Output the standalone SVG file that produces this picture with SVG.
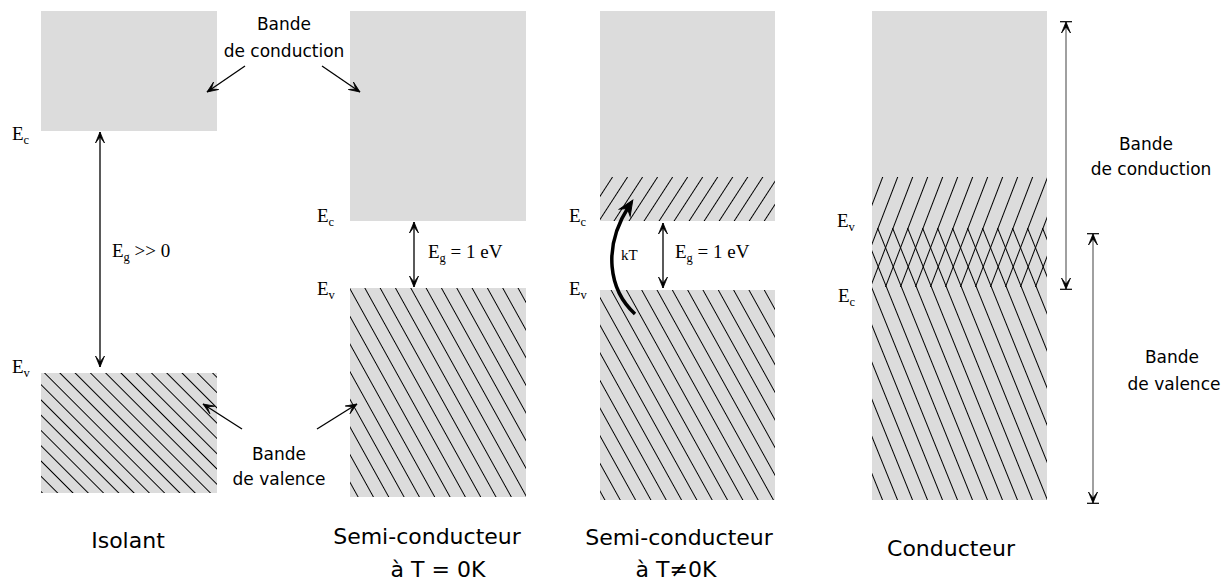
<svg xmlns="http://www.w3.org/2000/svg" width="1229" height="583" viewBox="0 0 1229 583">
<style>
.band{fill:#dcdcdc;stroke:none}
.hl{stroke:#000;stroke-width:1;shape-rendering:crispEdges}
.lbl{font-family:"Comic Sans MS","DejaVu Sans",sans-serif;font-size:17px;text-anchor:middle;fill:#000}
.ttl{font-family:"Comic Sans MS","DejaVu Sans",sans-serif;font-size:22px;text-anchor:middle;fill:#000}
.e{font-family:"Liberation Serif","Times New Roman",serif;font-size:19px;fill:#000}
.sub{font-size:12.5px}
.kt{font-family:"Liberation Serif","Times New Roman",serif;font-size:15px;fill:#000}
.ar{stroke:#000;stroke-width:1.3;fill:none}
.gr{stroke:#808080;stroke-width:1.5;fill:none}
</style>
<defs>
<pattern id="hIso" width="10.8" height="10.8" patternUnits="userSpaceOnUse" patternTransform="rotate(-45)"><line class="hl" x1="5" y1="-1" x2="5" y2="11.8"/></pattern>
<pattern id="hSemi" width="13.4" height="13.4" patternUnits="userSpaceOnUse" patternTransform="rotate(-29)"><line class="hl" x1="5" y1="-1" x2="5" y2="14.4"/></pattern>
<pattern id="hUp" width="12.6" height="12.6" patternUnits="userSpaceOnUse" patternTransform="rotate(33)"><line class="hl" x1="5" y1="-1" x2="5" y2="13.6"/></pattern>
<pattern id="hCup" width="14" height="14" patternUnits="userSpaceOnUse" patternTransform="rotate(21)"><line class="hl" x1="5" y1="-1" x2="5" y2="15"/></pattern>
<pattern id="hCdn" width="13.9" height="13.9" patternUnits="userSpaceOnUse" patternTransform="rotate(-22)"><line class="hl" x1="5" y1="-1" x2="5" y2="14.9"/></pattern>
<marker id="arr" viewBox="-12 -6 13 12" markerWidth="13" markerHeight="12" refX="0" refY="0" orient="auto-start-reverse" markerUnits="userSpaceOnUse"><path d="M0,0 L-11,-4.5 L-5,0 L-11,4.5 Z" fill="#000" stroke="#000" stroke-width="0.8"/></marker>
<marker id="arrT" viewBox="-12 -7 13 14" markerWidth="13" markerHeight="14" refX="0" refY="0" orient="auto-start-reverse" markerUnits="userSpaceOnUse"><path d="M0,0 L-11,-4.5 L-5,0 L-11,4.5 Z" fill="#000" stroke="#000" stroke-width="0.8"/><line x1="0.3" y1="-6" x2="0.3" y2="6" stroke="#000" stroke-width="1.2"/></marker>
<marker id="arrK" viewBox="-16 -8 17 16" markerWidth="17" markerHeight="16" refX="-7" refY="0" orient="auto" markerUnits="userSpaceOnUse"><path d="M0,0 L-15,-6.5 L-10,0 L-15,6.5 Z" fill="#000" stroke="#000" stroke-width="1"/></marker>
</defs>

<g id="isolant">
<g id="iso-cond"><rect class="band" x="41" y="11" width="176" height="120"/></g>
<g id="iso-val"><rect class="band" x="41" y="373" width="176" height="120"/><rect x="41" y="373" width="176" height="120" fill="url(#hIso)"/></g>
<text class="e" x="12" y="140">E<tspan class="sub" dy="4">c</tspan></text>
<text class="e" x="12" y="373">E<tspan class="sub" dy="4">v</tspan></text>
<text class="e" x="112" y="257">E<tspan class="sub" dy="4">g</tspan><tspan dy="-4"> &gt;&gt; 0</tspan></text>
<text class="ttl" x="128" y="548">Isolant</text>
</g>

<g id="semi0">
<g id="semi0-cond"><rect class="band" x="350" y="11" width="176" height="210"/></g>
<g id="semi0-val"><rect class="band" x="350" y="288" width="176" height="209"/><rect x="350" y="288" width="176" height="209" fill="url(#hSemi)"/></g>
<text class="e" x="317" y="222">E<tspan class="sub" dy="4">c</tspan></text>
<text class="e" x="317" y="295">E<tspan class="sub" dy="4">v</tspan></text>
<text class="e" x="428" y="258">E<tspan class="sub" dy="4">g</tspan><tspan dy="-4"> = 1 eV</tspan></text>
<text class="ttl" x="427" y="544">Semi-conducteur</text>
<text class="ttl" x="438" y="577">à T = 0K</text>
</g>

<g id="semiT">
<g id="semiT-cond"><rect class="band" x="600" y="11" width="175" height="210"/><rect x="600" y="177" width="175" height="44" fill="url(#hUp)"/></g>
<g id="semiT-val"><rect class="band" x="600" y="290" width="175" height="210"/><rect x="600" y="290" width="175" height="210" fill="url(#hSemi)"/></g>
<text class="e" x="569" y="222">E<tspan class="sub" dy="4">c</tspan></text>
<text class="e" x="569" y="295">E<tspan class="sub" dy="4">v</tspan></text>
<text class="e" x="675" y="258">E<tspan class="sub" dy="4">g</tspan><tspan dy="-4"> = 1 eV</tspan></text>
<text class="kt" x="621" y="260">kT</text>
<text class="ttl" x="679" y="545">Semi-conducteur</text>
<text class="ttl" x="676" y="577">à T≠0K</text>
</g>

<g id="conducteur">
<g id="cond-band"><rect class="band" x="872" y="11" width="175" height="489"/><rect x="872" y="177" width="175" height="110" fill="url(#hCup)"/><rect x="872" y="228" width="175" height="272" fill="url(#hCdn)"/></g>
<text class="e" x="837" y="227">E<tspan class="sub" dy="4">v</tspan></text>
<text class="e" x="838" y="302">E<tspan class="sub" dy="4">c</tspan></text>
<text class="ttl" x="951" y="556">Conducteur</text>
</g>

<g id="labels">
<text class="lbl" x="284" y="30">Bande</text>
<text class="lbl" x="284" y="57">de conduction</text>
<text class="lbl" x="279" y="460">Bande</text>
<text class="lbl" x="279" y="485">de valence</text>
<text class="lbl" x="1146" y="150">Bande</text>
<text class="lbl" x="1151" y="175">de conduction</text>
<text class="lbl" x="1172" y="363">Bande</text>
<text class="lbl" x="1174" y="390">de valence</text>
</g>

<g id="connectors">
<line class="ar" x1="100" y1="132" x2="100" y2="367" marker-start="url(#arr)" marker-end="url(#arr)"/>
<line class="ar" x1="414" y1="222" x2="414" y2="287" marker-start="url(#arr)" marker-end="url(#arr)"/>
<line class="ar" x1="663" y1="223" x2="663" y2="288" marker-start="url(#arr)" marker-end="url(#arr)"/>
<line class="ar" x1="245" y1="66" x2="207" y2="92" marker-end="url(#arr)"/>
<line class="ar" x1="322" y1="66" x2="360" y2="92" marker-end="url(#arr)"/>
<line class="ar" x1="242" y1="429" x2="203" y2="404" marker-end="url(#arr)"/>
<line class="ar" x1="317" y1="429" x2="357" y2="404" marker-end="url(#arr)"/>
<path d="M635,314 C609,290 602,248 629,206" stroke="#000" stroke-width="3.5" fill="none" marker-end="url(#arrK)"/>
<line class="gr" x1="1066" y1="22" x2="1066" y2="289" marker-start="url(#arrT)" marker-end="url(#arrT)"/>
<line class="gr" x1="1093" y1="234" x2="1093" y2="503" marker-start="url(#arrT)" marker-end="url(#arrT)"/>
</g>
</svg>
